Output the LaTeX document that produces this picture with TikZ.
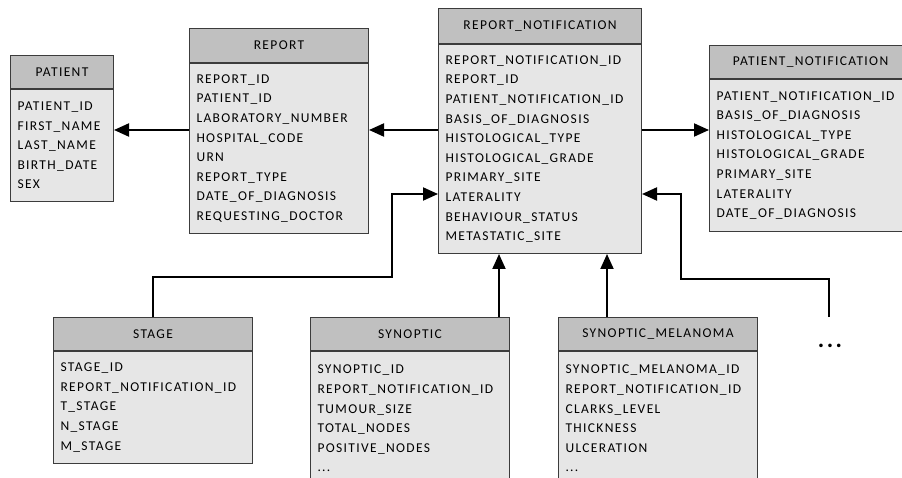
\documentclass[tikz,border=0pt]{standalone}
\usepackage{fontspec}
\setmainfont{Carlito}[LetterSpace=10]
\usetikzlibrary{arrows.meta}
\definecolor{hdrgray}{RGB}{192,192,192}
\definecolor{bodygray}{RGB}{230,230,230}
\definecolor{edgegray}{RGB}{60,60,60}
% #1 name, #2 x, #3 top y, #4 width, #5 header bottom y, #6 bottom y, #7 text width, #8 title, #9 lines
\newcommand\ertable[9]{%
  \node[hdr, minimum width=#4pt, minimum height={(#5-#3)*1pt}] (#1h) at (#2,#3) {#8};
  \node[bdy, minimum height={(#6-#5)*1pt}, text width=#7pt] (#1b) at (#1h.south west) {#9};
}
\begin{document}
\begin{tikzpicture}[x=1pt,y=-1pt,
  hdr/.style={draw=edgegray, fill=hdrgray, line width=1pt, anchor=north west, inner sep=0pt,
    font=\fontsize{13.5}{19.6}\selectfont},
  bdy/.style={draw=edgegray, fill=bodygray, line width=1pt, anchor=north west, inner xsep=7pt,
    inner ysep=0pt, align=left, font=\fontsize{13.5}{19.6}\selectfont},
  conn/.style={line width=2pt, -{Triangle[length=15pt,width=13pt]}},
  dots/.style={font=\fontsize{24}{26}\bfseries\selectfont, inner sep=0pt}
]
\useasboundingbox (0,0) rectangle (902,478);
\clip (0,0) rectangle (902,478);

\ertable{pat}{10}{55}{103}{88}{200}{89}{PATIENT}{PATIENT\_ID\\FIRST\_NAME\\LAST\_NAME\\BIRTH\_DATE\\SEX}
\ertable{rpt}{189}{28}{179}{62}{232}{165}{REPORT}{REPORT\_ID\\PATIENT\_ID\\LABORATORY\_NUMBER\\HOSPITAL\_CODE\\URN\\REPORT\_TYPE\\DATE\_OF\_DIAGNOSIS\\REQUESTING\_DOCTOR}
\ertable{rn}{438}{8}{203}{43}{252}{189}{REPORT\_NOTIFICATION}{REPORT\_NOTIFICATION\_ID\\REPORT\_ID\\PATIENT\_NOTIFICATION\_ID\\BASIS\_OF\_DIAGNOSIS\\HISTOLOGICAL\_TYPE\\HISTOLOGICAL\_GRADE\\PRIMARY\_SITE\\LATERALITY\\BEHAVIOUR\_STATUS\\METASTATIC\_SITE}
\ertable{pn}{709}{45}{202}{78}{230}{188}{PATIENT\_NOTIFICATION}{PATIENT\_NOTIFICATION\_ID\\BASIS\_OF\_DIAGNOSIS\\HISTOLOGICAL\_TYPE\\HISTOLOGICAL\_GRADE\\PRIMARY\_SITE\\LATERALITY\\DATE\_OF\_DIAGNOSIS}
\ertable{stg}{53}{317}{199}{350}{462}{185}{STAGE}{STAGE\_ID\\REPORT\_NOTIFICATION\_ID\\T\_STAGE\\N\_STAGE\\M\_STAGE}
\ertable{syn}{310}{317}{199}{350}{484}{185}{SYNOPTIC}{SYNOPTIC\_ID\\REPORT\_NOTIFICATION\_ID\\TUMOUR\_SIZE\\TOTAL\_NODES\\POSITIVE\_NODES\\...}
\ertable{sm}{558}{317}{199}{350}{484}{185}{SYNOPTIC\_MELANOMA}{SYNOPTIC\_MELANOMA\_ID\\REPORT\_NOTIFICATION\_ID\\CLARKS\_LEVEL\\THICKNESS\\ULCERATION\\...}

\node[dots] (more) at (830,346) {...};

\coordinate (midrow) at (0,130);
\coordinate (latrow) at (0,194);
\coordinate (elbowL) at (392,277);
\coordinate (elbowR) at (681,279);
\coordinate (synup) at ([xshift=-11pt]synh.north east);
\coordinate (smup) at ([xshift=49pt]smh.north west);
\coordinate (moreup) at (829,317);

\draw[conn] (rnb.west |- midrow) -- (rptb.east |- midrow);
\draw[conn] (rptb.west |- midrow) -- (patb.east |- midrow);
\draw[conn] (rnb.east |- midrow) -- (pnb.west |- midrow);
\draw[conn] (stgh.north) |- (elbowL) -- (elbowL |- latrow) -- (rnb.west |- latrow);
\draw[conn] (synup) -- (synup |- rnb.south);
\draw[conn] (smup) -- (smup |- rnb.south);
\draw[conn] (moreup) |- (elbowR) -- (elbowR |- latrow) -- (rnb.east |- latrow);
\end{tikzpicture}
\end{document}
